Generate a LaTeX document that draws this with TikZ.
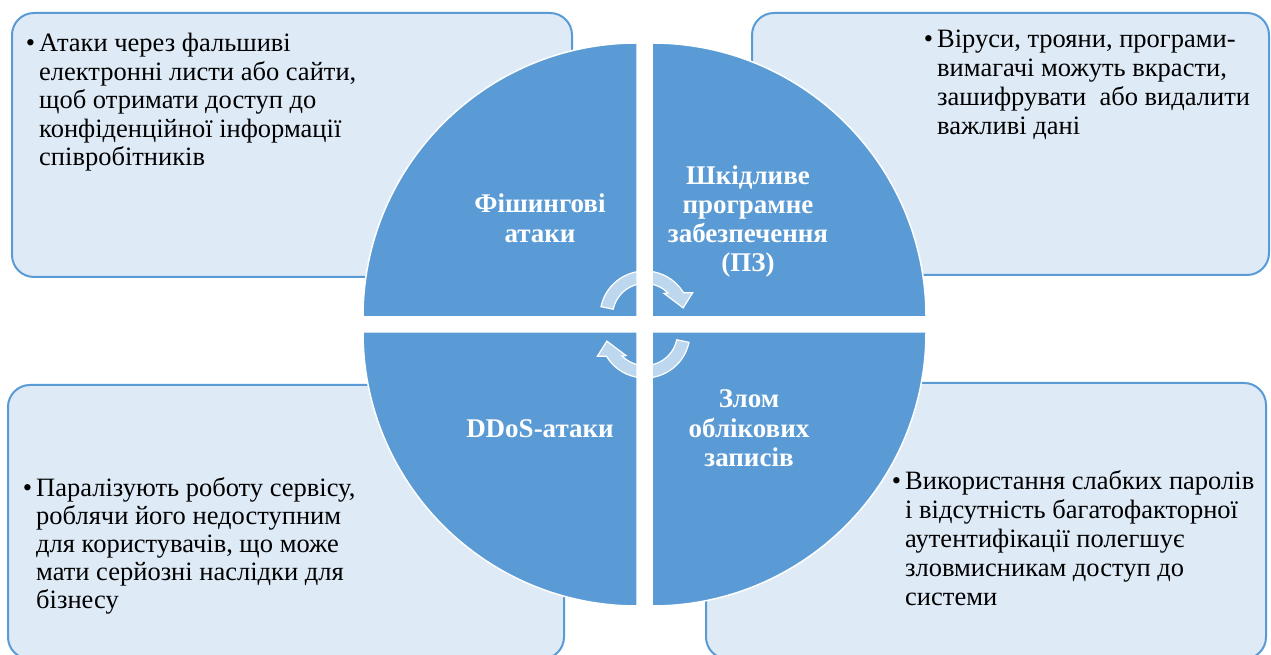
\documentclass[tikz,border=0pt]{standalone}
\usepackage{fontspec}
\setmainfont{Liberation Serif}
\definecolor{boxfill}{HTML}{DEEAF6}
\definecolor{boxline}{HTML}{5B9BD5}
\definecolor{quadfill}{HTML}{5B9BD5}
\newcommand{\bul}{\leavevmode\llap{•\hskip4pt}}
\begin{document}
\begin{tikzpicture}[x=1pt,y=1pt,
  infobox/.style={draw=boxline, fill=boxfill, line width=2pt, rounded corners=22pt},
  quad/.style={fill=quadfill, draw=white, line width=1.5pt},
  cyc/.style={fill=white, fill opacity=0.6, draw=white, line width=1.2pt},
  bodytext/.style={anchor=base west, inner sep=0pt, text=black},
  qlabel/.style={anchor=base, inner sep=0pt, text=white, font=\bfseries}
]
\useasboundingbox (0,0) rectangle (1271,655);
\clip (0,0) rectangle (1271,655);
\fill[white] (0,0) rectangle (1271,655);

% info boxes
\path[infobox] (12,378) rectangle (572,642);
\path[infobox] (752,380) rectangle (1269,642);
\path[infobox] (8,-4) rectangle (564,270);
\path[infobox] (706,-4) rectangle (1266,272);

% quadrants
\coordinate (ctl) at (637,338);
\coordinate (ctr) at (652,338);
\coordinate (cbl) at (637,323);
\coordinate (cbr) at (652,323);
\path[quad] (ctl) -- ++(180:274) arc[start angle=180,end angle=90,radius=274] -- cycle;
\path[quad] (ctr) -- ++(90:274) arc[start angle=90,end angle=0,radius=274] -- cycle;
\path[quad] (cbl) -- ++(180:274) arc[start angle=180,end angle=270,radius=274] -- cycle;
\path[quad] (cbr) -- ++(270:274) arc[start angle=270,end angle=360,radius=274] -- cycle;

% cycle arrows
\begin{scope}[shift={(645,339)}]
  \path[cyc] (168:45) arc[start angle=168,end angle=31,radius=45] -- (26:53) -- (12:39) -- (50:29.5) -- (45:32.5) arc[start angle=45,end angle=168,radius=32.5] -- cycle;
\end{scope}
\begin{scope}[shift={(645,322)},rotate=180]
  \path[cyc] (168:45) arc[start angle=168,end angle=31,radius=45] -- (26:53) -- (12:39) -- (50:29.5) -- (45:32.5) arc[start angle=45,end angle=168,radius=32.5] -- cycle;
\end{scope}

% quadrant labels
\node[qlabel] (phish) at (540,442) {\fontsize{27}{30}\selectfont\bfseries\parbox[t]{220pt}{\centering Фішингові\\атаки}};
\node[qlabel] (malware) at (748,470) {\fontsize{27}{29}\selectfont\bfseries\parbox[t]{220pt}{\centering Шкідливе\\програмне\\забезпечення\\(ПЗ)}};
\node[qlabel] (ddos) at (540,217) {\fontsize{27}{29}\selectfont\bfseries\parbox[t]{220pt}{\centering DDoS-атаки}};
\node[qlabel] (hack) at (749,247) {\fontsize{27}{29.5}\selectfont\bfseries\parbox[t]{220pt}{\centering Злом\\облікових\\записів}};

% box texts
\node[bodytext] (tltext) at (39,603) {\fontsize{26.5}{28.5}\selectfont\parbox[t]{520pt}{\raggedright\bul Атаки через фальшиві\\електронні листи або сайти,\\щоб отримати доступ до\\конфіденційної інформації\\співробітників}};
\node[bodytext] (trtext) at (937,607) {\fontsize{26.5}{29}\selectfont\parbox[t]{330pt}{\raggedright\bul Віруси, трояни, програми-\\вимагачі можуть вкрасти,\\зашифрувати \ або видалити\\важливі дані}};
\node[bodytext] (bltext) at (36,158) {\fontsize{26.5}{27.8}\selectfont\parbox[t]{520pt}{\raggedright\bul Паралізують роботу сервісу,\\роблячи його недоступним\\для користувачів, що може\\мати серйозні наслідки для\\бізнесу}};
\node[bodytext] (brtext) at (905,165) {\fontsize{26.5}{29}\selectfont\parbox[t]{360pt}{\raggedright\bul Використання слабких паролів\\і відсутність багатофакторної\\аутентифікації полегшує\\зловмисникам доступ до\\системи}};
\end{tikzpicture}
\end{document}
